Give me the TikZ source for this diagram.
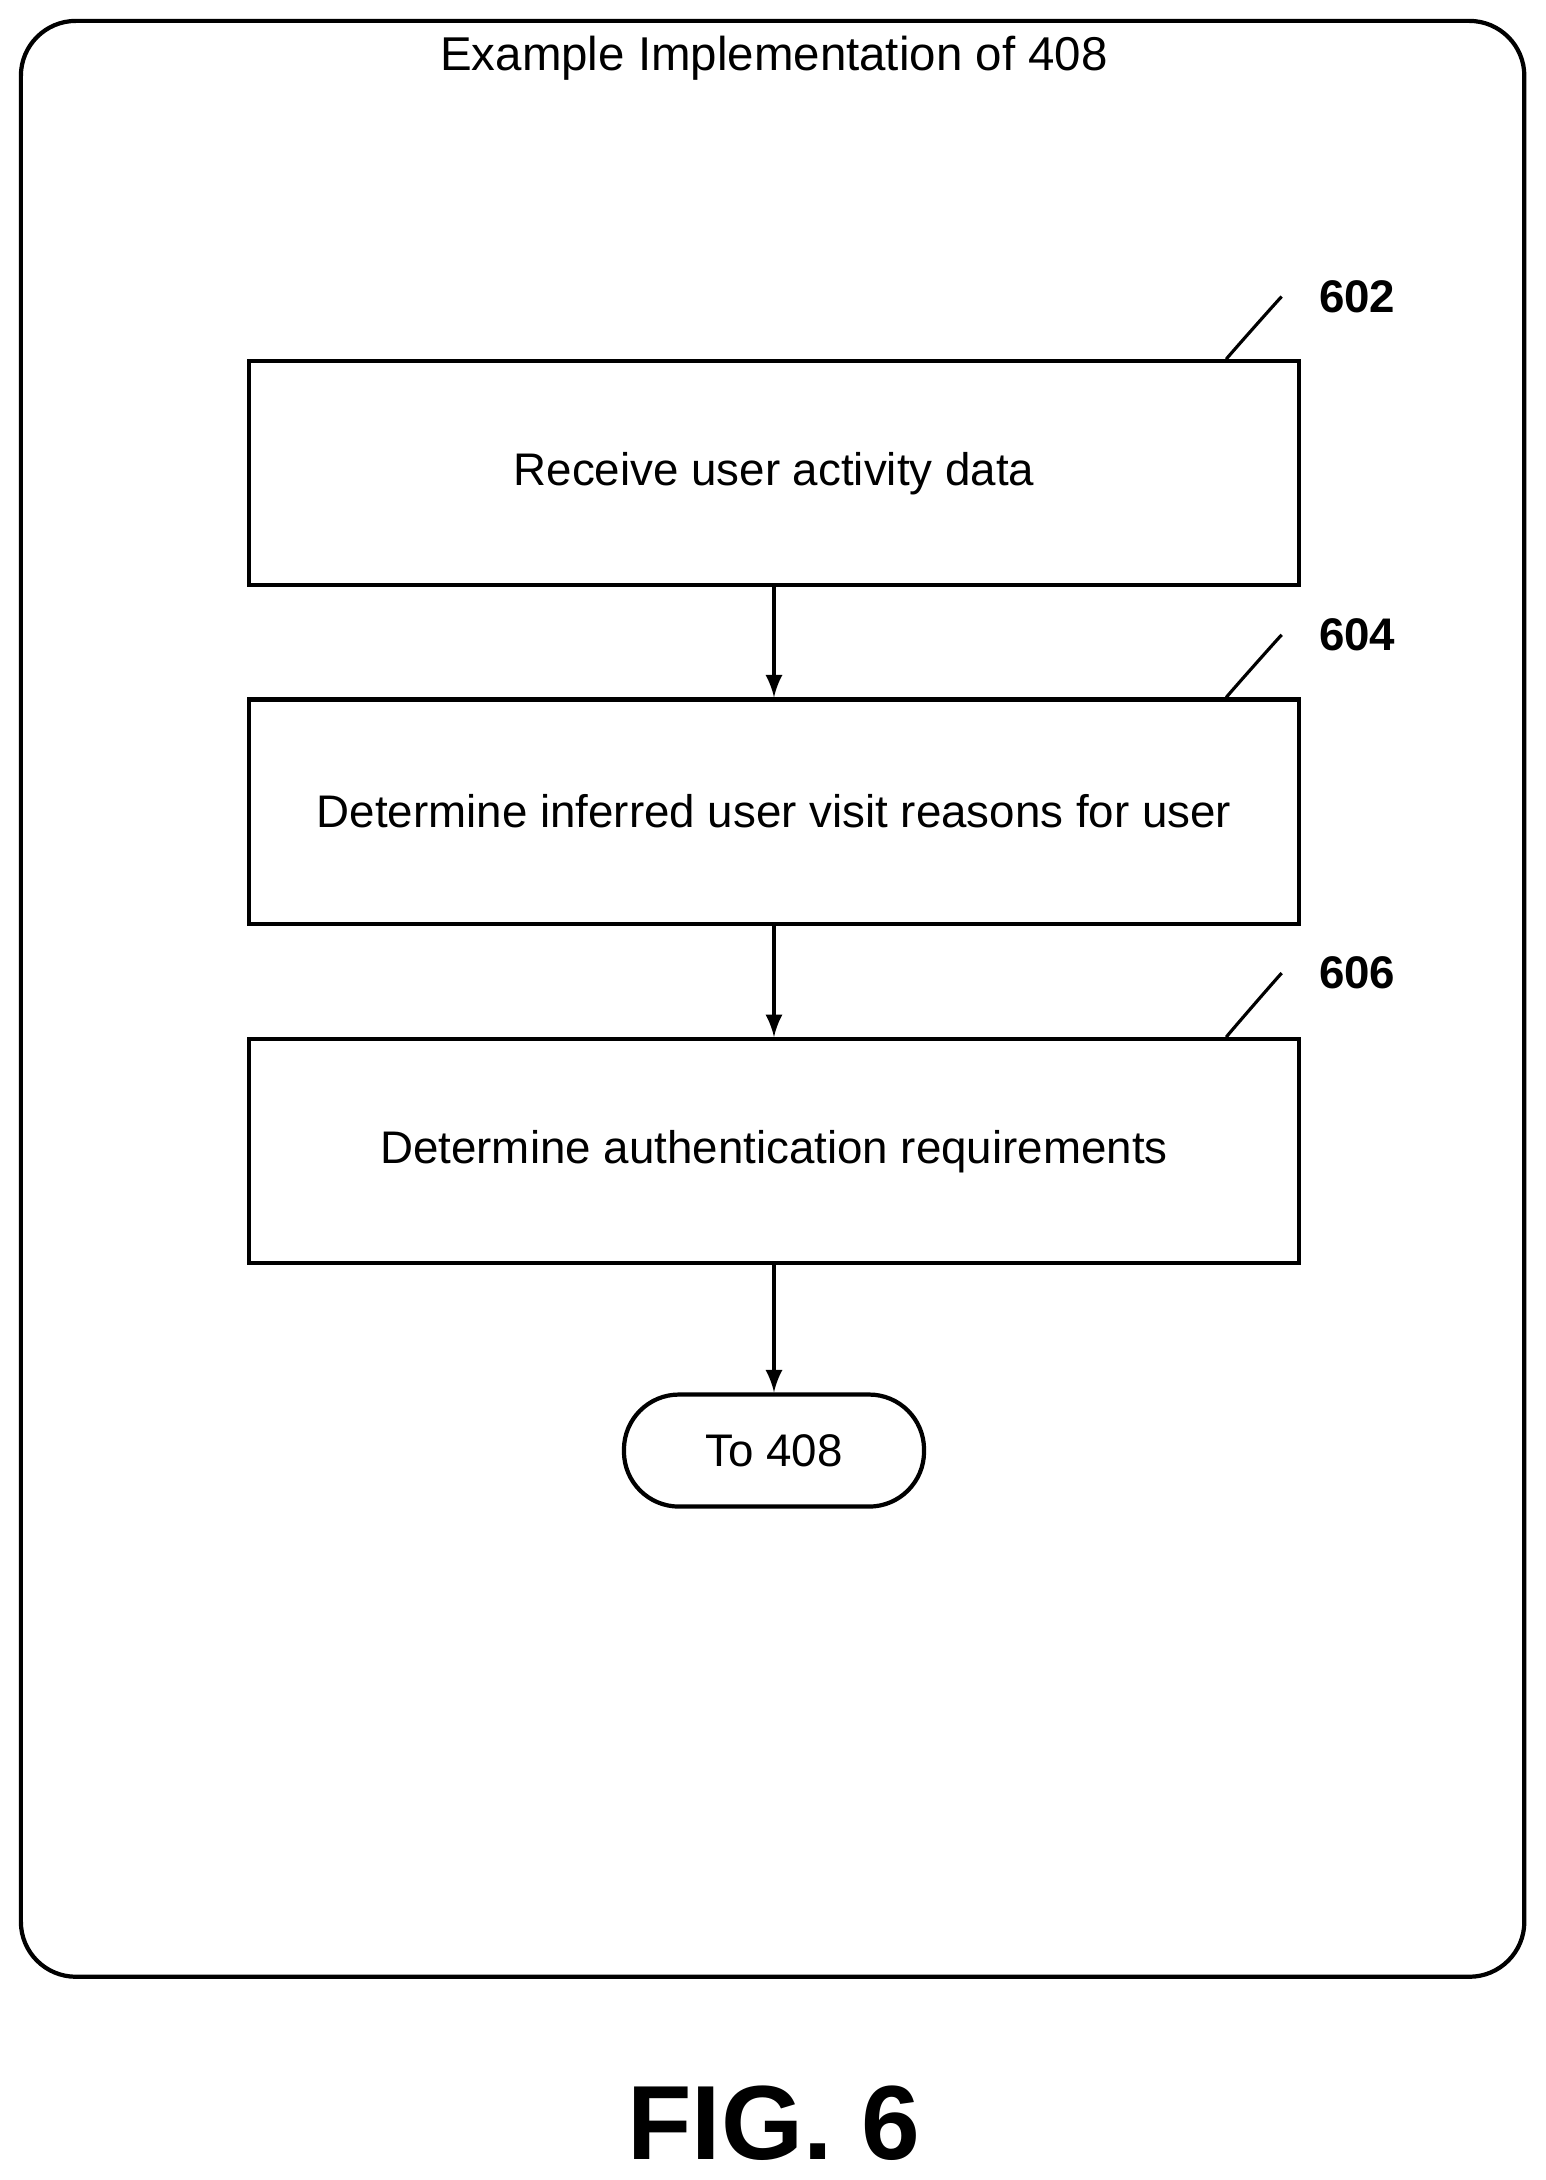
\documentclass[tikz,border=0pt]{standalone}
\usepackage{fontspec}
\setmainfont{Liberation Sans}
\usetikzlibrary{positioning}

\tikzstyle{stepbox} = [draw, line width=1.2pt, rectangle, minimum width=10.5cm, minimum height=2.24cm, font=\fontsize{13}{15}\selectfont]
\tikzstyle{term} = [draw, line width=1.2pt, rectangle, rounded corners=0.55cm, minimum width=3cm, minimum height=1.12cm, font=\fontsize{13}{15}\selectfont]
\tikzstyle{line} = [draw, line width=1.2pt, -latex]
\tikzstyle{ref} = [font=\bfseries\fontsize{13}{15}\selectfont]

\begin{document}
\begin{tikzpicture}[x=0.01392cm, y=-0.01392cm]
	\useasboundingbox (0,0) rectangle (1110,1566);

	% Frame
	\draw[line width=1.2pt, rounded corners=0.55cm] (15,15) rectangle (1095,1420);
	\node (title) at (556,42) {\fontsize{13.5}{15}\selectfont Example Implementation of 408};

	% Steps
	\node at (556,340) [stepbox] (recv) {Receive user activity data};
	\node at (556,583) [stepbox] (infer) {Determine inferred user visit reasons for user};
	\node at (556,827) [stepbox] (auth) {Determine authentication requirements};
	\node at (556,1042) [term] (out) {To 408};

	\path[line] (recv) -- (infer);
	\path[line] (infer) -- (auth);
	\path[line] (auth) -- (out);

	% Reference numbers
	\foreach \n/\b/\y in {602/recv/213, 604/infer/456, 606/auth/699} {
		\node at (975,\y) [ref] (lbl\n) {\n};
		\draw[line width=0.9pt] ([xshift=-0.75cm]\b.north east) .. controls +(0,-0.5) and +(-0.3,0) .. ([xshift=-0.25cm]lbl\n.west);
	}

	\node at (556,1525) (fig) {\bfseries\fontsize{30}{34}\selectfont FIG. 6};
\end{tikzpicture}
\end{document}
